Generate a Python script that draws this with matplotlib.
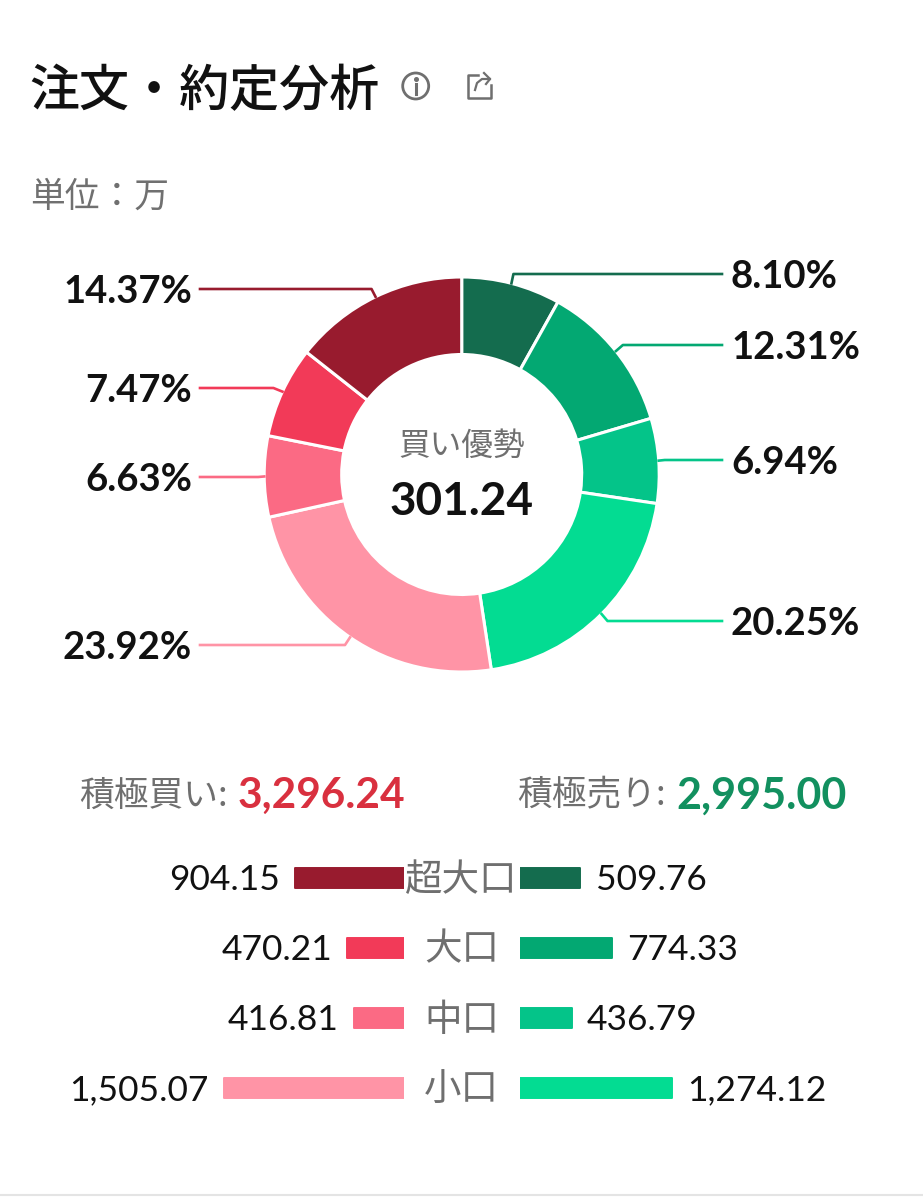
"""Order / execution analysis donut with the buy and sell bars below it."""

import numpy as np
import matplotlib
matplotlib.use('Agg')
import matplotlib.pyplot as plt
from matplotlib.patches import Circle

W, H = 923, 1200
JP = ['Noto Sans CJK JP', 'DejaVu Sans']
NUM = ['Lato', 'Noto Sans CJK JP', 'DejaVu Sans']

sizes = ['超大口', '大口', '中口', '小口']
buy_values = [904.15, 470.21, 416.81, 1505.07]
sell_values = [509.76, 774.33, 436.79, 1274.12]
buy_colors = ['#981b2e', '#f23a58', '#fb6a84', '#ff94a6']
sell_colors = ['#146c4e', '#03a872', '#04c489', '#03dc92']
pct_labels = ['8.10%', '12.31%', '6.94%', '20.25%', '23.92%', '6.63%', '7.47%', '14.37%']
total_buy = '3,296.24'
total_sell = '2,995.00'
net_value = '301.24'

# layout of the leader lines, clockwise from the top
label_y = [274, 345, 460, 621, 645, 477, 388, 289]
elbow_dx = [2, 7, 6, 6, -5, -6, -9, -4]

plt.rcParams['font.family'] = JP

fig = plt.figure(figsize=(W / 100, H / 100), dpi=100, facecolor='white')

# full figure axes in pixels, y kept upwards so that pie runs normally
ax = fig.add_axes([0, 0, 1, 1])


def py(y):
    return H - y


cx, cy, R = 461.7, 474.5, 197.5

# ---- donut ----
pie_values = sell_values + buy_values[::-1]
pie_colors = sell_colors + buy_colors[::-1]
ax.pie(pie_values, colors=pie_colors, center=(cx, py(cy)), radius=R, startangle=90,
       counterclock=False,
       wedgeprops=dict(width=R - 120, edgecolor='white', linewidth=2.2))
ax.set_xlim(0, W)
ax.set_ylim(0, H)
ax.axis('off')

# ---- leader lines and percent labels ----
fracs = np.array(pie_values) / np.sum(pie_values)
mids = (np.cumsum(fracs) - fracs / 2) * 2 * np.pi
for i, lab in enumerate(pct_labels):
    sx = cx + R * np.sin(mids[i])
    sy = cy - R * np.cos(mids[i])
    right = sx > cx
    end_x = 722 if right else 200
    ax.plot([sx, sx + elbow_dx[i], end_x], [py(sy), py(label_y[i]), py(label_y[i])],
            color=pie_colors[i], lw=1.9, solid_joinstyle='round')
    ax.text(731 if right else 192, py(label_y[i] + 3), lab, family=NUM, fontsize=27.5,
            fontweight='bold', color='#111111', va='center',
            ha='left' if right else 'right')

ax.text(cx, py(446), '買い優勢', fontsize=22.8, color='#6f6f6f', ha='center', va='center')
ax.text(cx, py(502), net_value, family=NUM, fontsize=33, fontweight='bold',
        color='#111111', ha='center', va='center')

# ---- header ----
ax.text(29, py(92), '注文・約定分析', fontsize=36, fontweight='medium', color='#111111',
        ha='left', va='center')
ax.text(30, py(197), '単位：万', fontsize=25, color='#707070', ha='left', va='center')

# info icon
ax.add_patch(Circle((415.7, py(86)), 13, fill=False, ec='#6f6f6f', lw=2))
ax.plot([415.7, 415.7], [py(84), py(94)], color='#6f6f6f', lw=2.2)
ax.plot([415.7], [py(79)], 'o', color='#6f6f6f', ms=2.6)

# share icon
ax.plot([478, 468, 468, 491, 491], [py(75), py(75), py(98), py(98), py(85)],
        color='#6f6f6f', lw=1.8, solid_joinstyle='round')
ax.plot([475, 477, 482, 490], [py(90), py(83), py(79), py(79)], color='#6f6f6f', lw=1.6)
ax.plot([484, 490, 486], [py(73), py(79), py(84)], color='#6f6f6f', lw=1.6)

# ---- totals ----
ax.text(228, py(796), '積極買い:', fontsize=25, color='#6f6f6f', ha='right', va='center')
ax.text(238, py(796), total_buy, family=NUM, fontsize=30.5, fontweight='bold',
        color='#d9303f', ha='left', va='center')
ax.text(666, py(796), '積極売り:', fontsize=25, color='#6f6f6f', ha='right', va='center')
ax.text(676, py(796), total_sell, family=NUM, fontsize=31, fontweight='bold',
        color='#12905f', ha='left', va='center')

# ---- bars, 0.12 px per unit on both sides ----
row_top, row_h = 843, 70
n = len(sizes)
bar_span = 1600
bar_px = bar_span * 0.1195
bar_bottom = (H - (row_top + n * row_h)) / H


def bar_axes(left_px, inverted):
    b = fig.add_axes([left_px / W, bar_bottom, bar_px / W, n * row_h / H])
    b.set_xlim((bar_span, 0) if inverted else (0, bar_span))
    b.set_ylim(n - 0.5, -0.5)
    b.axis('off')
    return b


ax_buy = bar_axes(403.5 - bar_px, True)
ax_sell = bar_axes(519.5, False)
y_pos = np.arange(n)
ax_buy.barh(y_pos, buy_values, height=0.28, color=buy_colors, edgecolor=buy_colors,
            linewidth=1.4, joinstyle='round')
ax_sell.barh(y_pos, sell_values, height=0.28, color=sell_colors, edgecolor=sell_colors,
             linewidth=1.4, joinstyle='round')

for i in range(n):
    ax_buy.annotate(f'{buy_values[i]:,.2f}', (buy_values[i], i), xytext=(-11, -1.5),
                    textcoords='offset points', family=NUM, fontsize=25.5, color='#111111',
                    ha='right', va='center', annotation_clip=False)
    ax_sell.annotate(f'{sell_values[i]:,.2f}', (sell_values[i], i), xytext=(11, -1.5),
                     textcoords='offset points', family=NUM, fontsize=25.5, color='#111111',
                     ha='left', va='center', annotation_clip=False)
    ax.text(461.5, py(row_top + row_h * (i + 0.5) + 2), sizes[i], fontsize=27, color='#6f6f6f',
            ha='center', va='center')

# thin line at the bottom of the card
ax.plot([0, W], [py(1195), py(1195)], color='#e4e4e4', lw=1.5)

fig.savefig('out.png', dpi=100, facecolor='white')
